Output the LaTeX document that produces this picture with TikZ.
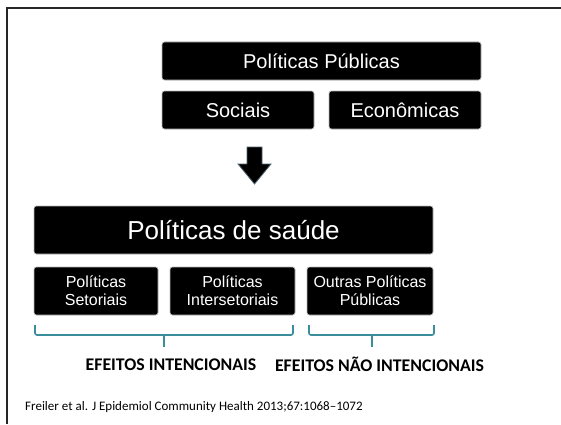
\documentclass[tikz,border=0pt]{standalone}
\usepackage{fontspec}
\setmainfont{Liberation Sans}
\newfontfamily\calib{Carlito}
\definecolor{braceteal}{HTML}{3A8E9C}
\definecolor{arrowedge}{HTML}{4F6470}
\begin{document}
\begin{tikzpicture}[x=1pt,y=1pt,
  blk/.style={rectangle, rounded corners=2.5pt, fill=black, draw=gray!55, line width=0.6pt, text=white, inner sep=0pt, align=center},
  bigtxt/.style={font=\fontsize{20}{22}\selectfont},
  hugetxt/.style={font=\fontsize{26}{28}\selectfont},
  smalltxt/.style={font=\fontsize{16}{18}\selectfont},
  brc/.style={draw=braceteal, line width=1.6pt, rounded corners=2pt},
  lbl/.style={font=\calib\bfseries\fontsize{17.8}{20}\selectfont, inner sep=0pt},
  cite/.style={font=\calib\fontsize{13}{15}\selectfont, inner sep=0pt, anchor=west}]
\useasboundingbox (0,0) rectangle (561,424);
\fill[white] (0,0) rectangle (561,424);
% frame
\draw[line width=2pt, black!85] (6.5,0) -- (6.5,416) -- (561,416);
% top boxes
\node[blk, bigtxt, minimum width=319pt, minimum height=38pt] (pp) at (321.5,363) {Políticas Públicas};
\node[blk, bigtxt, minimum width=152pt, minimum height=38pt] (soc) at (238,314) {Sociais};
\node[blk, bigtxt, minimum width=152pt, minimum height=38pt] (eco) at (405,314) {Econômicas};
% block arrow
\draw[fill=black, draw=arrowedge, line width=0.8pt, line join=miter]
  (247,277) -- (262,277) -- (262,260) -- (271,260) -- (254.5,240) -- (238,260) -- (247,260) -- cycle;
% health policies
\node[blk, hugetxt, minimum width=399pt, minimum height=48pt] (ps) at (233.5,194) {Políticas de saúde};
\node[blk, smalltxt, minimum width=124pt, minimum height=48pt] (set) at (96,133) {Políticas\\Setoriais};
\node[blk, smalltxt, minimum width=125pt, minimum height=48pt] (inter) at (232.5,133) {Políticas\\Intersetoriais};
\node[blk, smalltxt, minimum width=126pt, minimum height=48pt] (outr) at (370,133) {Outras Políticas\\Públicas};
% braces
\draw[brc] (35,99) -- (35,89) -- (293,89) -- (293,99);
\draw[draw=braceteal, line width=2pt] (164,89) -- (164,77);
\draw[brc] (309,99) -- (309,89) -- (434,89) -- (434,99);
\draw[draw=braceteal, line width=2pt] (372,89) -- (372,77);
% labels
\node[lbl] (ei) at (171,59.5) {EFEITOS INTENCIONAIS};
\node[lbl] (eni) at (379.5,59.5) {EFEITOS NÃO INTENCIONAIS};
\node[cite] (ref) at (25,17) {Freiler et al. J Epidemiol Community Health 2013;67:1068–1072};
\end{tikzpicture}
\end{document}
